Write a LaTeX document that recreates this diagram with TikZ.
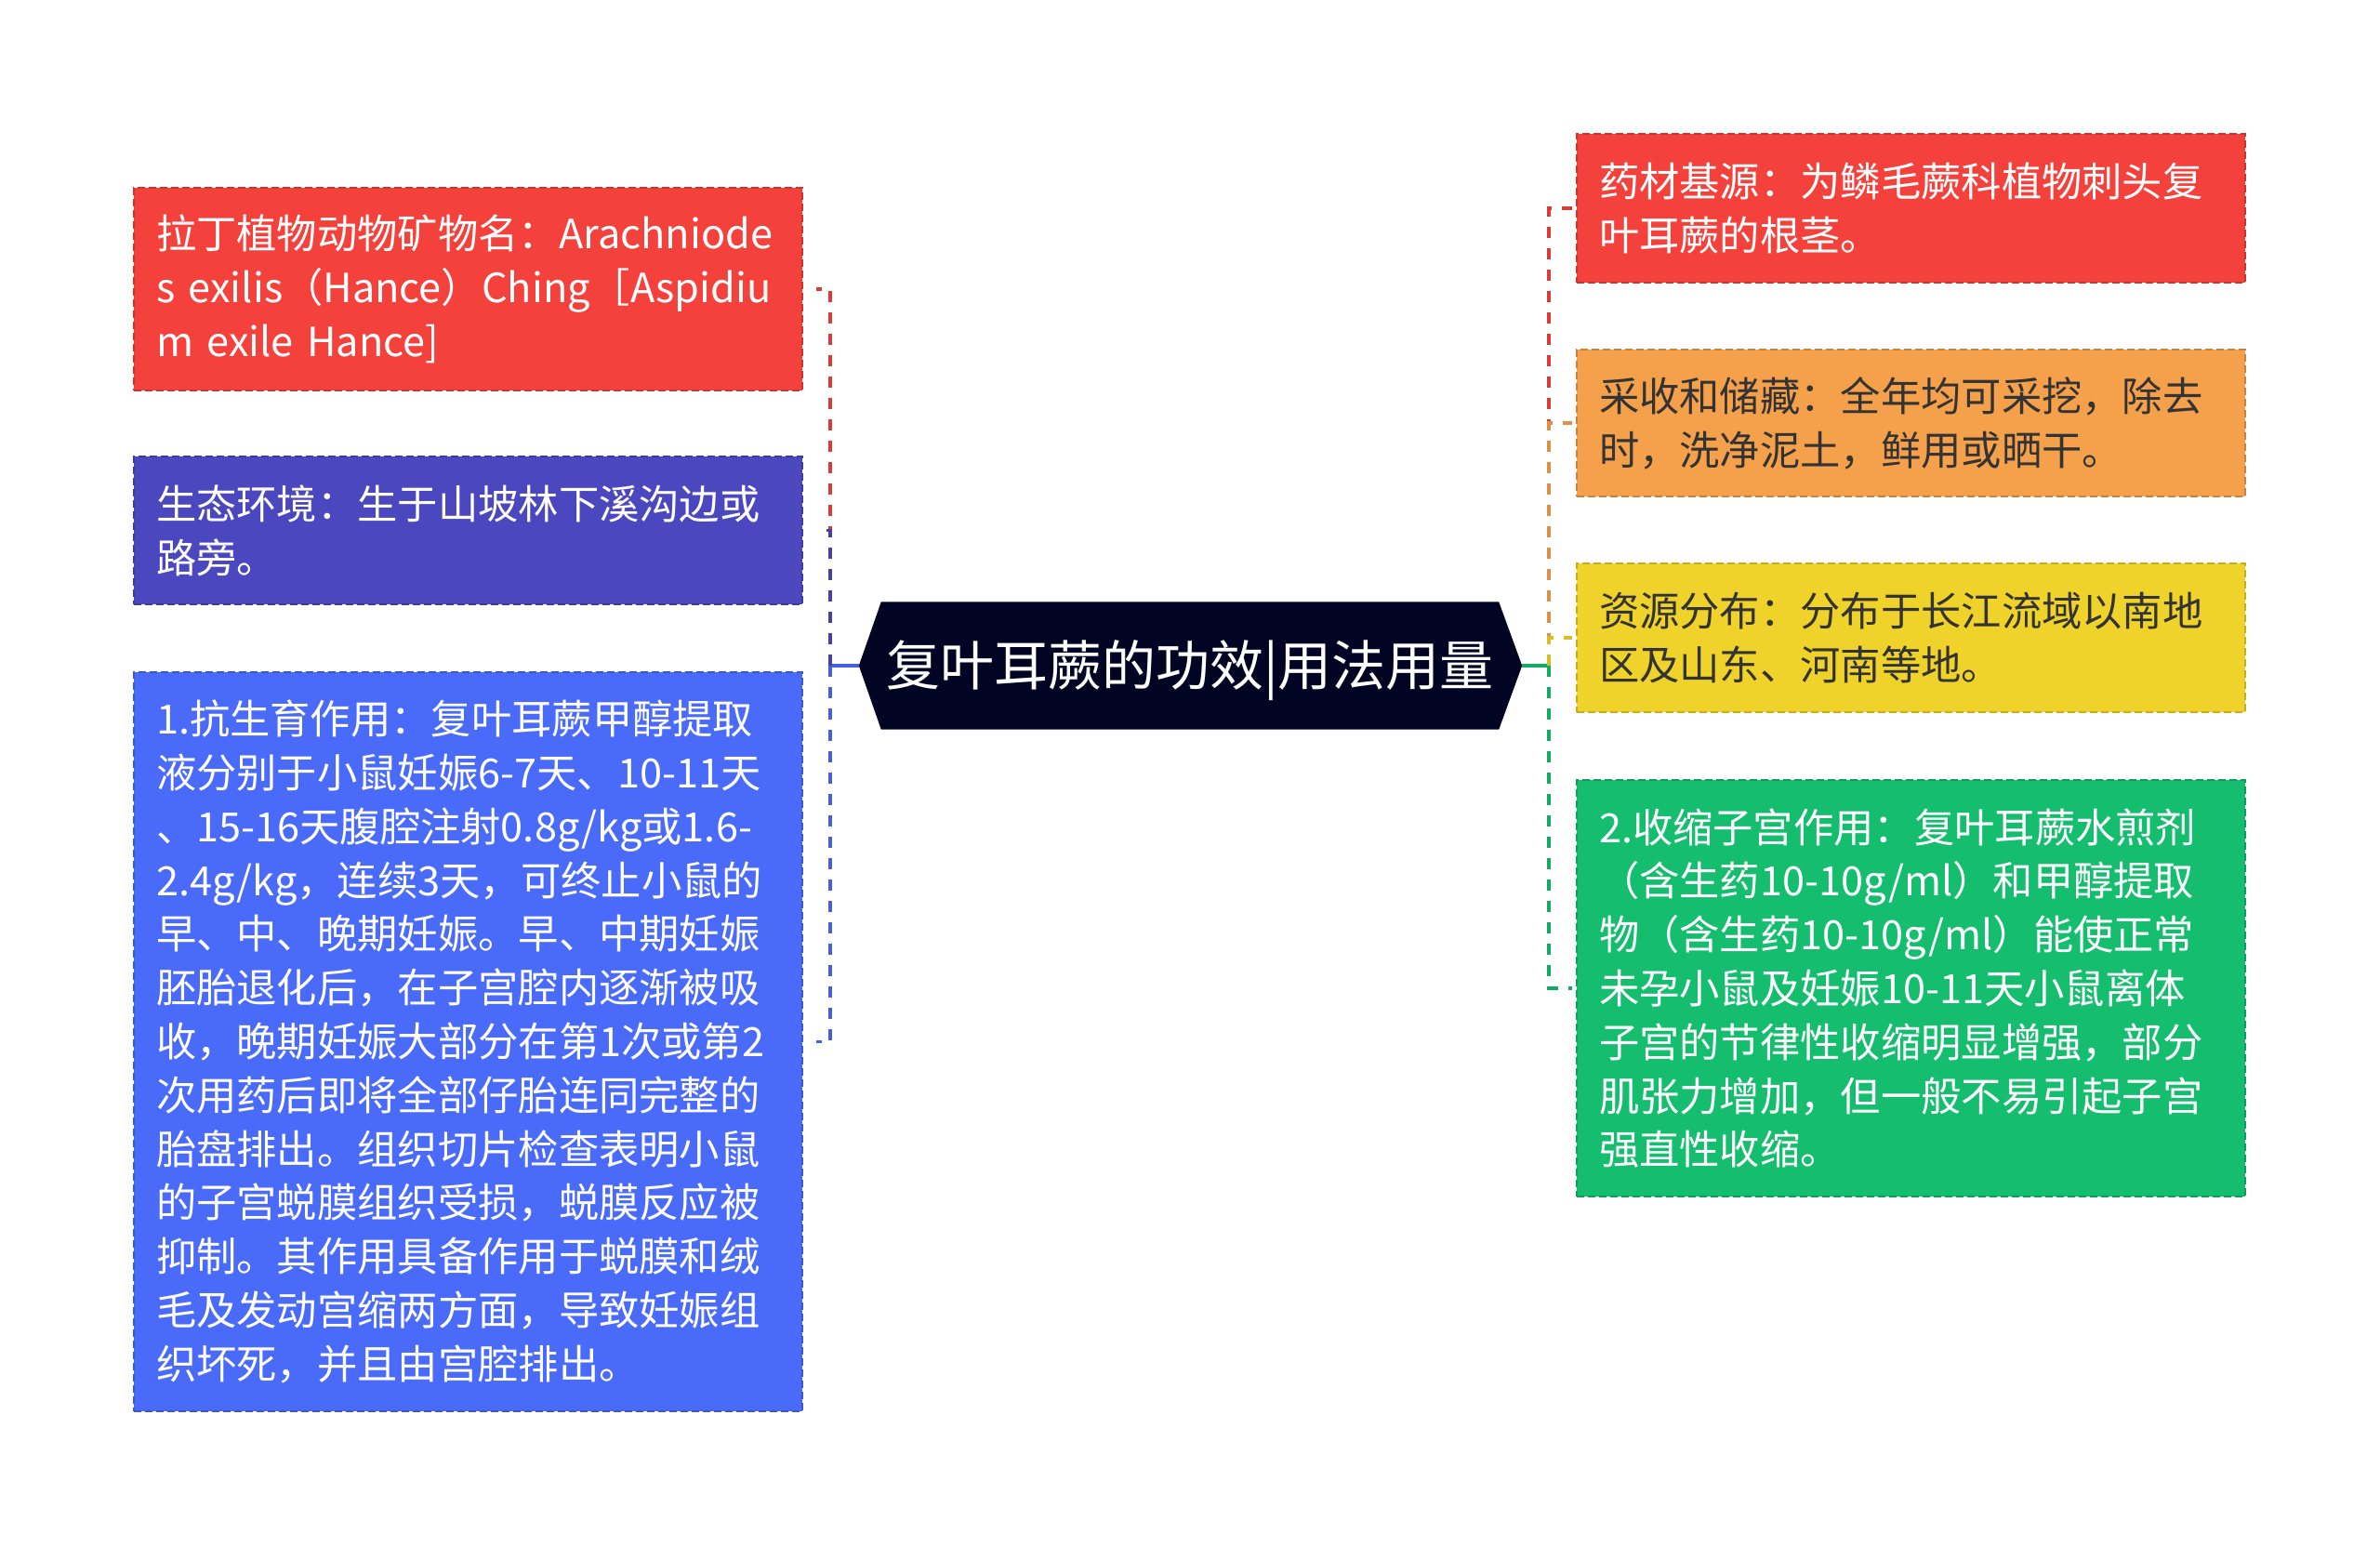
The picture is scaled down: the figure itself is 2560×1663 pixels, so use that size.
\documentclass[tikz,border=0pt]{standalone}
\usepackage{fontspec}
\setmainfont{Noto Sans CJK SC}
\usetikzlibrary{backgrounds}
\definecolor{cred}{HTML}{F5413B}
\definecolor{cpurple}{HTML}{4B48BF}
\definecolor{cblue}{HTML}{4A6BF9}
\definecolor{corange}{HTML}{F5A04B}
\definecolor{cyellow}{HTML}{F0D32A}
\definecolor{cgreen}{HTML}{14BE6E}
\definecolor{cnavy}{HTML}{020424}
\definecolor{cdark}{HTML}{333333}
\begin{document}
\begin{tikzpicture}[x=1pt,y=-1pt,
  leaf/.style={draw=#1!82!black, fill=#1, dash pattern=on 8pt off 4pt, line width=2pt,
    minimum width=719pt, text width=671pt, inner xsep=24pt, inner ysep=0pt,
    align=left, anchor=center, text=white,
    font=\fontsize{43.3}{57.8}\selectfont},
  hub/.style={minimum width=664pt, minimum height=137pt, inner sep=0pt, text=white,
    font=\fontsize{58}{70}\selectfont},
  conn/.style={draw=#1!90!black, line width=3.5pt, dash pattern=on 12pt off 11pt},
  trunk/.style={draw=#1!90!black, line width=3.5pt}
]
\useasboundingbox (0,0) rectangle (2560,1663);

% centre (text sits a little below the middle of the hexagon)
\node[hub] (c) at (1280,721) {复叶耳蕨的功效|用法用量};
\begin{scope}[on background layer]
\fill[white] (0,0) rectangle (2560,1663);
\fill[cnavy] ([yshift=5pt]c.north west) -- ([yshift=5pt]c.north east)
  -- ([xshift=25pt,yshift=5pt]c.east) -- ([yshift=5pt]c.south east)
  -- ([yshift=5pt]c.south west) -- ([xshift=-24pt,yshift=5pt]c.west) -- cycle;
\end{scope}
\coordinate (cl) at ([xshift=-24pt,yshift=5pt]c.west);
\coordinate (cr) at ([xshift=25pt,yshift=5pt]c.east);
\coordinate (jl) at (893,716);
\coordinate (jr) at (1666,716);

% left leaves
\node[leaf=cred, minimum height=218pt] (l1) at (503.5,311)
 {拉丁植物动物矿物名：Arachniode\\\mbox{s exilis（Hance）Ching［Aspidiu}\\\mbox{m exile Hance]}};
\node[leaf=cpurple, minimum height=159pt] (l2) at (503.5,570.5)
 {生态环境：生于山坡林下溪沟边或\\路旁。};
\node[leaf=cblue, minimum height=795pt] (l3) at (503.5,1120.5)
 {1.抗生育作用：复叶耳蕨甲醇提取\\液分别于小鼠妊娠6-7天、10-11天\\、15-16天腹腔注射0.8g/kg或1.6-\\2.4g/kg，连续3天，可终止小鼠的\\早、中、晚期妊娠。早、中期妊娠\\胚胎退化后，在子宫腔内逐渐被吸\\收，晚期妊娠大部分在第1次或第2\\次用药后即将全部仔胎连同完整的\\胎盘排出。组织切片检查表明小鼠\\的子宫蜕膜组织受损，蜕膜反应被\\抑制。其作用具备作用于蜕膜和绒\\毛及发动宫缩两方面，导致妊娠组\\织坏死，并且由宫腔排出。};

% right leaves
\node[leaf=cred, minimum height=160pt] (r1) at (2055.5,224)
 {药材基源：为鳞毛蕨科植物刺头复\\叶耳蕨的根茎。};
\node[leaf=corange, minimum height=158pt, text=cdark] (r2) at (2055.5,455)
 {采收和储藏：全年均可采挖，除去\\时，洗净泥土，鲜用或晒干。};
\node[leaf=cyellow, minimum height=160pt, text=cdark] (r3) at (2055.5,686)
 {资源分布：分布于长江流域以南地\\区及山东、河南等地。};
\node[leaf=cgreen, minimum height=448pt] (r4) at (2055.5,1063)
 {2.收缩子宫作用：复叶耳蕨水煎剂\\（含生药10-10g/ml）和甲醇提取\\物（含生药10-10g/ml）能使正常\\未孕小鼠及妊娠10-11天小鼠离体\\子宫的节律性收缩明显增强，部分\\肌张力增加，但一般不易引起子宫\\强直性收缩。};

% connectors
\draw[trunk=cblue] (cl) -- (jl);
\draw[trunk=cgreen] (cr) -- (jr);
\draw[conn=cred] (jl) |- ([xshift=14pt]l1.east);
\draw[conn=cpurple] (jl) |- ([xshift=14pt]l2.east);
\draw[conn=cblue] (jl) |- ([xshift=14pt]l3.east);
\draw[conn=cred] (jr) |- ([xshift=-4pt]r1.west);
\draw[conn=corange] (jr) |- ([xshift=-4pt]r2.west);
\draw[conn=cyellow] (jr) |- ([xshift=-4pt]r3.west);
\draw[conn=cgreen] (jr) |- ([xshift=-4pt]r4.west);
\end{tikzpicture}
\end{document}
